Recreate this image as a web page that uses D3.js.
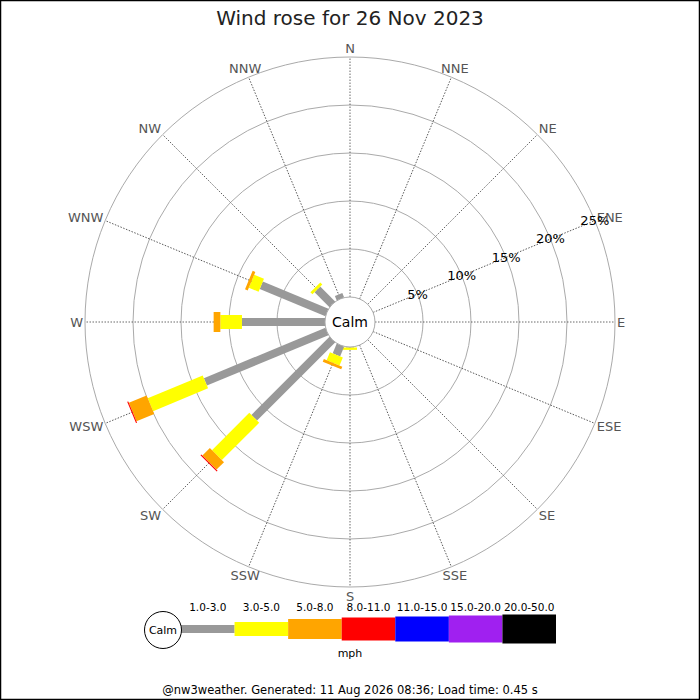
<!DOCTYPE html>
<html>
<head>
<meta charset="utf-8">
<script src="https://cdn.jsdelivr.net/npm/d3@7"></script>
<style>
  html, body { margin: 0; padding: 0; background: #fff; }
  svg { display: block; font-family: "DejaVu Sans", sans-serif; }
</style>
</head>
<body>
<div id="rose"></div>
<script>
var width = 700, height = 700;
var cx = 350, cy = 322;

// compass points, clockwise from N
var directions = ["N", "NNE", "NE", "ENE", "E", "ESE", "SE", "SSE",
                  "S", "SSW", "SW", "WSW", "W", "WNW", "NW", "NNW"];

// speed bins (mph) and their colours
var speedBins = ["1.0-3.0", "3.0-5.0", "5.0-8.0", "8.0-11.0", "11.0-15.0", "15.0-20.0", "20.0-50.0"];
var binColours = ["#999999", "#ffff00", "#ffa500", "#ff0000", "#0000ff", "#a020f0", "#000000"];

// percentage of the day in each bin, per direction (same order as directions)
var pct1to3   = [0, 0, 0, 0, 0, 0, 0, 0, 0.05, 1.1, 11.5, 13.7, 8.65, 7.4, 2.2, 0.5];
var pct3to5   = [0, 0, 0, 0, 0, 0, 0, 0, 0.25, 0.9, 5.5, 6.2, 2.25, 1.1, 0.3, 0];
var pct5to8   = [0, 0, 0, 0, 0, 0, 0, 0, 0, 0.3, 1.1, 2.0, 0.7, 0.3, 0, 0];
var pct8to11  = [0, 0, 0, 0, 0, 0, 0, 0, 0, 0, 0.12, 0.12, 0, 0, 0, 0];
var pct11to15 = [0, 0, 0, 0, 0, 0, 0, 0, 0, 0, 0, 0, 0, 0, 0, 0];
var pct15to20 = [0, 0, 0, 0, 0, 0, 0, 0, 0, 0, 0, 0, 0, 0, 0, 0];
var pct20to50 = [0, 0, 0, 0, 0, 0, 0, 0, 0, 0, 0, 0, 0, 0, 0, 0];

var ringTicks = [5, 10, 15, 20, 25];
var title = "Wind rose for 26 Nov 2023";
var footer = "@nw3weather. Generated: 11 Aug 2026 08:36; Load time: 0.45 s";

var series = [pct1to3, pct3to5, pct5to8, pct8to11, pct11to15, pct15to20, pct20to50];
var barWidths = [8, 14, 20, 23, 25, 27, 29];
var calmR = 25;

var svg = d3.select("#rose").append("svg")
  .attr("width", width)
  .attr("height", height);

svg.append("rect")
  .attr("x", 0.5).attr("y", 0.5)
  .attr("width", width - 1).attr("height", height - 1)
  .attr("fill", "#fff").attr("stroke", "#000").attr("stroke-width", 1.5);

svg.append("text")
  .attr("x", cx).attr("y", 25)
  .attr("text-anchor", "middle")
  .attr("font-size", 20)
  .attr("fill", "#222")
  .text(title);

var r = d3.scaleLinear().domain([0, 25]).range([calmR, 265]);
var angle = d3.scalePoint().domain(directions).range([0, 337.5]);
function rad(d) { return angle(d) * Math.PI / 180; }

var g = svg.append("g").attr("transform", "translate(" + cx + "," + cy + ")");

// rings
g.selectAll("circle.ring").data(ringTicks).enter().append("circle")
  .attr("class", "ring")
  .attr("r", function(d) { return r(d); })
  .attr("fill", "none")
  .attr("stroke", "#aaa")
  .attr("stroke-width", 1);

// spokes
g.selectAll("line.spoke").data(directions).enter().append("line")
  .attr("class", "spoke")
  .attr("transform", function(d) { return "rotate(" + angle(d) + ")"; })
  .attr("x1", 0).attr("y1", -r(0))
  .attr("x2", 0).attr("y2", -r(25))
  .attr("stroke", "#444")
  .attr("stroke-width", 0.8)
  .attr("stroke-dasharray", "1.5,1.5");

// direction labels: sides anchored to the ring, top/bottom centred
g.selectAll("text.dir").data(directions).enter().append("text")
  .attr("class", "dir")
  .attr("x", function(d) {
    var s = Math.sin(rad(d));
    return Math.abs(s) > 0.5 ? 267 * s : 274 * s;
  })
  .attr("y", function(d) { return -274 * Math.cos(rad(d)); })
  .attr("text-anchor", function(d) {
    var s = Math.sin(rad(d));
    return s > 0.5 ? "start" : s < -0.5 ? "end" : "middle";
  })
  .attr("dominant-baseline", "central")
  .attr("font-size", 13)
  .attr("fill", "#555")
  .text(function(d) { return d; });

// bars
directions.forEach(function(dir, i) {
  var bar = g.append("g").attr("transform", "rotate(" + angle(dir) + ")");
  var cum = 0;
  series.forEach(function(s, k) {
    var v = s[i];
    if (!v) return;
    var start = cum;
    cum += v;
    bar.append("rect")
      .attr("x", -barWidths[k] / 2)
      .attr("y", -r(cum))
      .attr("width", barWidths[k])
      .attr("height", r(cum) - r(start))
      .attr("fill", binColours[k]);
  });
});

// calm circle
g.append("circle")
  .attr("r", calmR)
  .attr("fill", "#fff")
  .attr("stroke", "#aaa");
g.append("text")
  .attr("dominant-baseline", "central")
  .attr("text-anchor", "middle")
  .attr("font-size", 14)
  .attr("fill", "#000")
  .text("Calm");

// ring labels along ENE
var ene = rad("ENE");
g.selectAll("text.tick").data(ringTicks).enter().append("text")
  .attr("class", "tick")
  .attr("x", function(d) { return r(d) * Math.sin(ene); })
  .attr("y", function(d) { return -r(d) * Math.cos(ene); })
  .attr("text-anchor", "middle")
  .attr("dominant-baseline", "central")
  .attr("font-size", 13)
  .attr("fill", "#000")
  .text(function(d) { return d + "%"; });

// legend
var lx = d3.scaleBand().domain(speedBins).range([181, 556]);
var ly = 629;
var legend = svg.append("g");
legend.selectAll("rect").data(speedBins).enter().append("rect")
  .attr("x", function(d) { return lx(d); })
  .attr("y", function(d, i) { return ly - barWidths[i] / 2; })
  .attr("width", lx.bandwidth())
  .attr("height", function(d, i) { return barWidths[i]; })
  .attr("fill", function(d, i) { return binColours[i]; });
legend.selectAll("text.bin").data(speedBins).enter().append("text")
  .attr("class", "bin")
  .attr("x", function(d) { return lx(d) + lx.bandwidth() / 2; })
  .attr("y", 611)
  .attr("text-anchor", "middle")
  .attr("font-size", 10.5)
  .attr("fill", "#000")
  .text(function(d) { return d; });
legend.append("circle")
  .attr("cx", 163).attr("cy", 630).attr("r", 18.5)
  .attr("fill", "#fff").attr("stroke", "#000");
legend.append("text")
  .attr("x", 163).attr("y", 630)
  .attr("text-anchor", "middle")
  .attr("dominant-baseline", "central")
  .attr("font-size", 11)
  .text("Calm");
legend.append("text")
  .attr("x", 350).attr("y", 657)
  .attr("text-anchor", "middle")
  .attr("font-size", 11)
  .text("mph");

svg.append("text")
  .attr("x", 350).attr("y", 694)
  .attr("text-anchor", "middle")
  .attr("font-size", 11.5)
  .attr("fill", "#000")
  .text(footer);
</script>
</body>
</html>
